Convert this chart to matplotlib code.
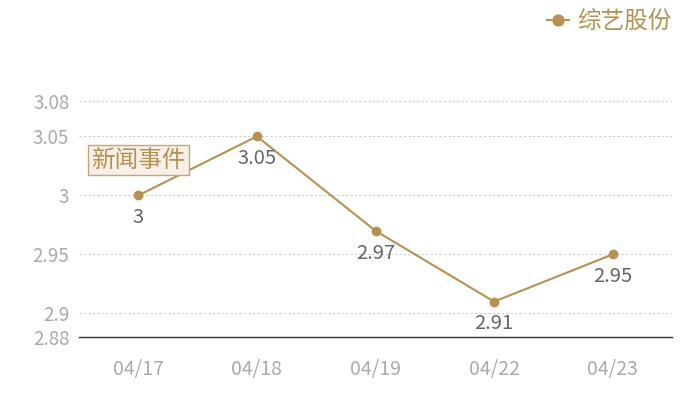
import matplotlib

matplotlib.use("Agg")
import matplotlib.pyplot as plt

plt.rcParams["font.family"] = ["Noto Sans CJK SC", "DejaVu Sans"]

# Données
dates = ["04/17", "04/18", "04/19", "04/22", "04/23"]
prix = [3.00, 3.05, 2.97, 2.91, 2.95]
etiquettes = ["3", "3.05", "2.97", "2.91", "2.95"]
graduations = [2.88, 2.9, 2.95, 3.0, 3.05, 3.08]
labels_grad = ["2.88", "2.9", "2.95", "3", "3.05", "3.08"]
nom_serie = "综艺股份"
evenement = "新闻事件"

OR = "#b8914f"

fig = plt.figure(figsize=(7, 4), dpi=100)
ax = fig.add_axes([79 / 700, 1 - 337 / 400, 593 / 700, 236 / 400])

x = list(range(len(dates)))
ax.plot(x, prix, color=OR, linewidth=1.5, marker="o", markersize=6,
        label=nom_serie, zorder=3)

for xi, yi, txt in zip(x, prix, etiquettes):
    ax.annotate(txt, (xi, yi), xytext=(0, -16), textcoords="offset points",
                ha="center", va="center", fontsize=14.5, color="#666666")

ax.set_xlim(-0.5, len(dates) - 0.5)
ax.set_ylim(2.88, 3.08)
ax.set_xticks(x, dates)
ax.set_yticks(graduations, labels_grad)
ax.tick_params(axis="both", length=0, labelcolor="#aaaaaa")
ax.tick_params(axis="x", pad=16, labelsize=14)
ax.tick_params(axis="y", pad=7, labelsize=13.5)

for g in graduations[1:]:
    ax.axhline(g, color="#cccccc", linewidth=0.8, linestyle=(0, (2, 2)),
               zorder=1)

for cote in ["top", "right", "left"]:
    ax.spines[cote].set_visible(False)
ax.spines["bottom"].set_color("#333333")
ax.spines["bottom"].set_linewidth(1)

# Encadré « événement »
ax.text(0.0, 3.030, evenement, ha="center", va="center", fontsize=17,
        color=OR, zorder=4,
        bbox=dict(boxstyle="square,pad=0.14", facecolor="#f5f0e8",
                  edgecolor="#c9a66b", linewidth=1))

leg = fig.legend(loc="upper right", bbox_to_anchor=(0.99, 1.028),
                 frameon=False, fontsize=17, handlelength=0.95,
                 handletextpad=0.35, markerscale=1.3)
for t in leg.get_texts():
    t.set_color(OR)

fig.savefig("out.png", dpi=100)
